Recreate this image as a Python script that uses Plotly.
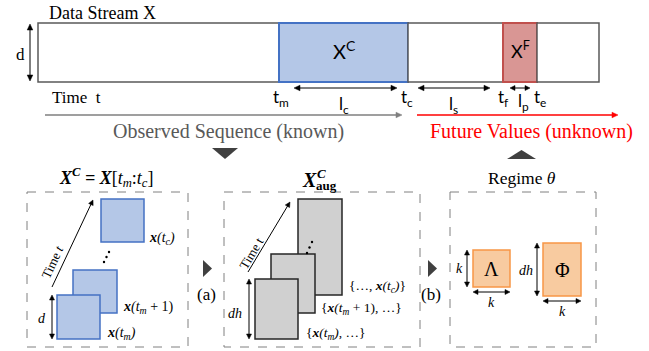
import math
import plotly.graph_objects as go

# ---- diagram content ----
stream_title = "Data Stream X"
segment_names = ["", "X<sup>C</sup>", "", "X<sup>F</sup>", ""]
time_marks = ["t<sub>m</sub>", "t<sub>c</sub>", "t<sub>f</sub>", "t<sub>e</sub>"]
length_marks = ["l<sub>c</sub>", "l<sub>s</sub>", "l<sub>p</sub>"]
known_label = "Observed Sequence (known)"
future_label = "Future Values (unknown)"
panel1_title = "<b><i>X<sup>C</sup> = X</i></b>[<i>t<sub>m</sub></i>:<i>t<sub>c</sub></i>]"
panel2_title_parts = ["<b><i>X</i></b>", "<b><i>C</i></b>", "<b>aug</b>"]
panel3_title = "Regime <i>θ</i>"
panel1_labels = ["<i><b>x</b>(t<sub>c</sub>)</i>", "<i><b>x</b>(t<sub>m</sub></i> + 1)", "<i><b>x</b>(t<sub>m</sub>)</i>"]
panel2_labels = ["{…, <i><b>x</b>(t<sub>c</sub>)</i>}", "{<i><b>x</b>(t<sub>m</sub></i> + 1), …}", "{<i><b>x</b>(t<sub>m</sub>)</i>, …}"]
regime_params = ["Λ", "Φ"]
step_labels = ["(a)", "(b)"]

SERIF = "Liberation Serif, Times New Roman, serif"
SANS = "Lato, Carlito, sans-serif"

fig = go.Figure()
shapes = []
ann = []

def rect(x0, y0, x1, y1, fill="white", line="#595959", w=1.5, dash=None):
    d = dict(type="rect", x0=x0, y0=y0, x1=x1, y1=y1, fillcolor=fill,
             line=dict(color=line, width=w), layer="above")
    if dash:
        d["line"]["dash"] = dash
    shapes.append(d)

def text(x, y, t, size=14, color="black", family=SERIF, angle=0, xanchor="center"):
    ann.append(dict(x=x, y=y, text=t, showarrow=False, xanchor=xanchor, yanchor="middle",
                    textangle=angle, font=dict(size=size, color=color, family=family)))

def head(xt, yt, ux, uy, color, L, W):
    bx, by = xt - L * ux, yt - L * uy
    px, py = -uy, ux
    path = (f"M {xt},{yt} L {bx + W * px},{by + W * py} "
            f"L {bx - W * px},{by - W * py} Z")
    shapes.append(dict(type="path", path=path, fillcolor=color,
                       line=dict(color=color, width=0.5), layer="above"))

def arrow(x0, y0, x1, y1, color="black", both=False, w=1, L=6, W=2.8):
    n = math.hypot(x1 - x0, y1 - y0)
    ux, uy = (x1 - x0) / n, (y1 - y0) / n
    sx, sy = (x0 + L * 0.8 * ux, y0 + L * 0.8 * uy) if both else (x0, y0)
    ex, ey = x1 - L * 0.8 * ux, y1 - L * 0.8 * uy
    shapes.append(dict(type="line", x0=sx, y0=sy, x1=ex, y1=ey,
                       line=dict(color=color, width=w), layer="above"))
    head(x1, y1, ux, uy, color, L, W)
    if both:
        head(x0, y0, -ux, -uy, color, L, W)

def tri(path, color="#404040"):
    shapes.append(dict(type="path", path=path, fillcolor=color, line=dict(width=0), layer="above"))

def dot(x, y):
    shapes.append(dict(type="circle", x0=x - 1.2, y0=y - 1.2, x1=x + 1.2, y1=y + 1.2,
                       fillcolor="black", line=dict(width=0), layer="above"))

# ---- top data stream ----
edges = [38, 279, 408, 503, 537, 599]
fills = ["white", "#b4c7e7", "white", "#d99694", "white"]
lines = ["#595959", "#4472c4", "#595959", "#c0504d", "#595959"]
for i in range(5):
    rect(edges[i], 23, edges[i + 1], 82, fill=fills[i], line=lines[i],
         w=2 if fills[i] != "white" else 1.5)
text(344, 50, segment_names[1], size=20, family=SANS)
text(520, 50, segment_names[3], size=18, family=SANS)

text(47, 13, stream_title, size=18, xanchor="left")
arrow(30, 24, 30, 81, both=True)
text(20, 54, "d", size=17)
text(50, 97, "Time  t", size=17, xanchor="left")

for x, t in zip([281, 407, 503, 540], time_marks):
    text(x, 98, t, size=17, family=SANS)
arrow(294, 88, 397, 88, both=True)
arrow(418, 88, 490, 88, both=True)
arrow(510, 88, 530, 88, both=True, L=5, W=2.5)
for x, y, t in zip([344, 453, 523], [105, 105, 102], length_marks):
    text(x, y, t, size=17, family=SANS)

arrow(45, 115, 402, 115, color="#7f7f7f", w=1.5)
arrow(417, 115, 618, 115, color="#ff0000", w=1.5)
text(228, 131, known_label, size=20, color="#595959")
text(531, 131, future_label, size=20, color="#ff0000")

tri("M 212,148 L 238,148 L 225,159 Z")
tri("M 507,159 L 536,159 L 521.5,150 Z")

# ---- panels ----
for x0, x1 in [(27, 188), (224, 420), (450, 596)]:
    rect(x0, 192, x1, 347, fill="rgba(0,0,0,0)", line="#808080", w=1, dash="dash")
text(105.5, 177, panel1_title, size=18)
text(309.5, 180, panel2_title_parts[0], size=20)
text(321.5, 173.5, panel2_title_parts[1], size=13)
text(326.5, 185.5, panel2_title_parts[2], size=13)
text(522, 178, panel3_title, size=17.5)

tri("M 203,260 L 212,268.5 L 203,277 Z")
tri("M 428,260 L 437,268.5 L 428,277 Z")
text(206, 294, step_labels[0], size=17)
text(431, 294, step_labels[1], size=17)

# panel 1
for (x0, y0, x1, y1) in [(101, 199, 144, 242), (73, 270, 117, 313), (57, 295, 100, 339)]:
    rect(x0, y0, x1, y1, fill="#b4c7e7", line="#4472c4", w=1.5)
arrow(52, 287, 93, 200, w=1, L=5, W=2.5)
text(52, 262, "Time <i>t</i>", size=13, angle=-65)
for (x, y) in [(109, 252), (106.5, 257), (104, 262)]:
    dot(x, y)
arrow(52, 295, 52, 339, both=True, L=5, W=2.5)
text(42, 318, "<i>d</i>", size=14)
text(147, 238, panel1_labels[0], size=14, xanchor="left")
text(121, 307, panel1_labels[1], size=14, xanchor="left")
text(105, 333, panel1_labels[2], size=14, xanchor="left")

# panel 2
for (x0, y0, x1, y1) in [(298, 199, 342, 295), (271, 254, 315, 313), (255, 279, 298, 339)]:
    rect(x0, y0, x1, y1, fill="#d0d0d0", line="#262626", w=1.5)
arrow(248, 272, 290, 202, w=1, L=5, W=2.5)
text(251, 253, "Time t", size=13, angle=-59)
for (x, y) in [(312, 242), (309.5, 247.5), (307, 253)]:
    dot(x, y)
arrow(249, 279, 249, 339, both=True, L=5, W=2.5)
text(235, 313, "<i>dh</i>", size=14)
text(347, 286, panel2_labels[0], size=13.5, xanchor="left")
text(319, 308, panel2_labels[1], size=13.5, xanchor="left")
text(304, 333, panel2_labels[2], size=13.5, xanchor="left")

# panel 3
rect(473, 250, 510, 287, fill="#f8cba0", line="#f79646", w=1.5)
rect(543, 243, 581, 296, fill="#f8cba0", line="#f79646", w=1.5)
text(491.5, 269, regime_params[0], size=20)
text(562, 270, regime_params[1], size=20)
arrow(467, 250, 467, 287, both=True, L=5, W=2.5)
text(459, 268, "<i>k</i>", size=14)
arrow(473, 292, 510, 292, both=True, L=5, W=2.5)
text(491, 302, "<i>k</i>", size=14)
arrow(537, 243, 537, 296, both=True, L=5, W=2.5)
text(526, 270, "<i>dh</i>", size=14)
arrow(543, 301, 581, 301, both=True, L=5, W=2.5)
text(562, 311, "<i>k</i>", size=14)

fig.update_layout(
    width=649, height=351, margin=dict(l=0, r=0, t=0, b=0),
    paper_bgcolor="white", plot_bgcolor="white",
    xaxis=dict(range=[0, 649], visible=False, fixedrange=True),
    yaxis=dict(range=[351, 0], visible=False, fixedrange=True),
    shapes=shapes, annotations=ann, showlegend=False,
)
fig.write_html("out.html", config={"displayModeBar": False})

with open("out.html", encoding="utf-8") as f:
    html = f.read()
html = html.replace("<head>", "<head><style>html,body{margin:0;padding:0;overflow:hidden;}</style>", 1)
with open("out.html", "w", encoding="utf-8") as f:
    f.write(html)
